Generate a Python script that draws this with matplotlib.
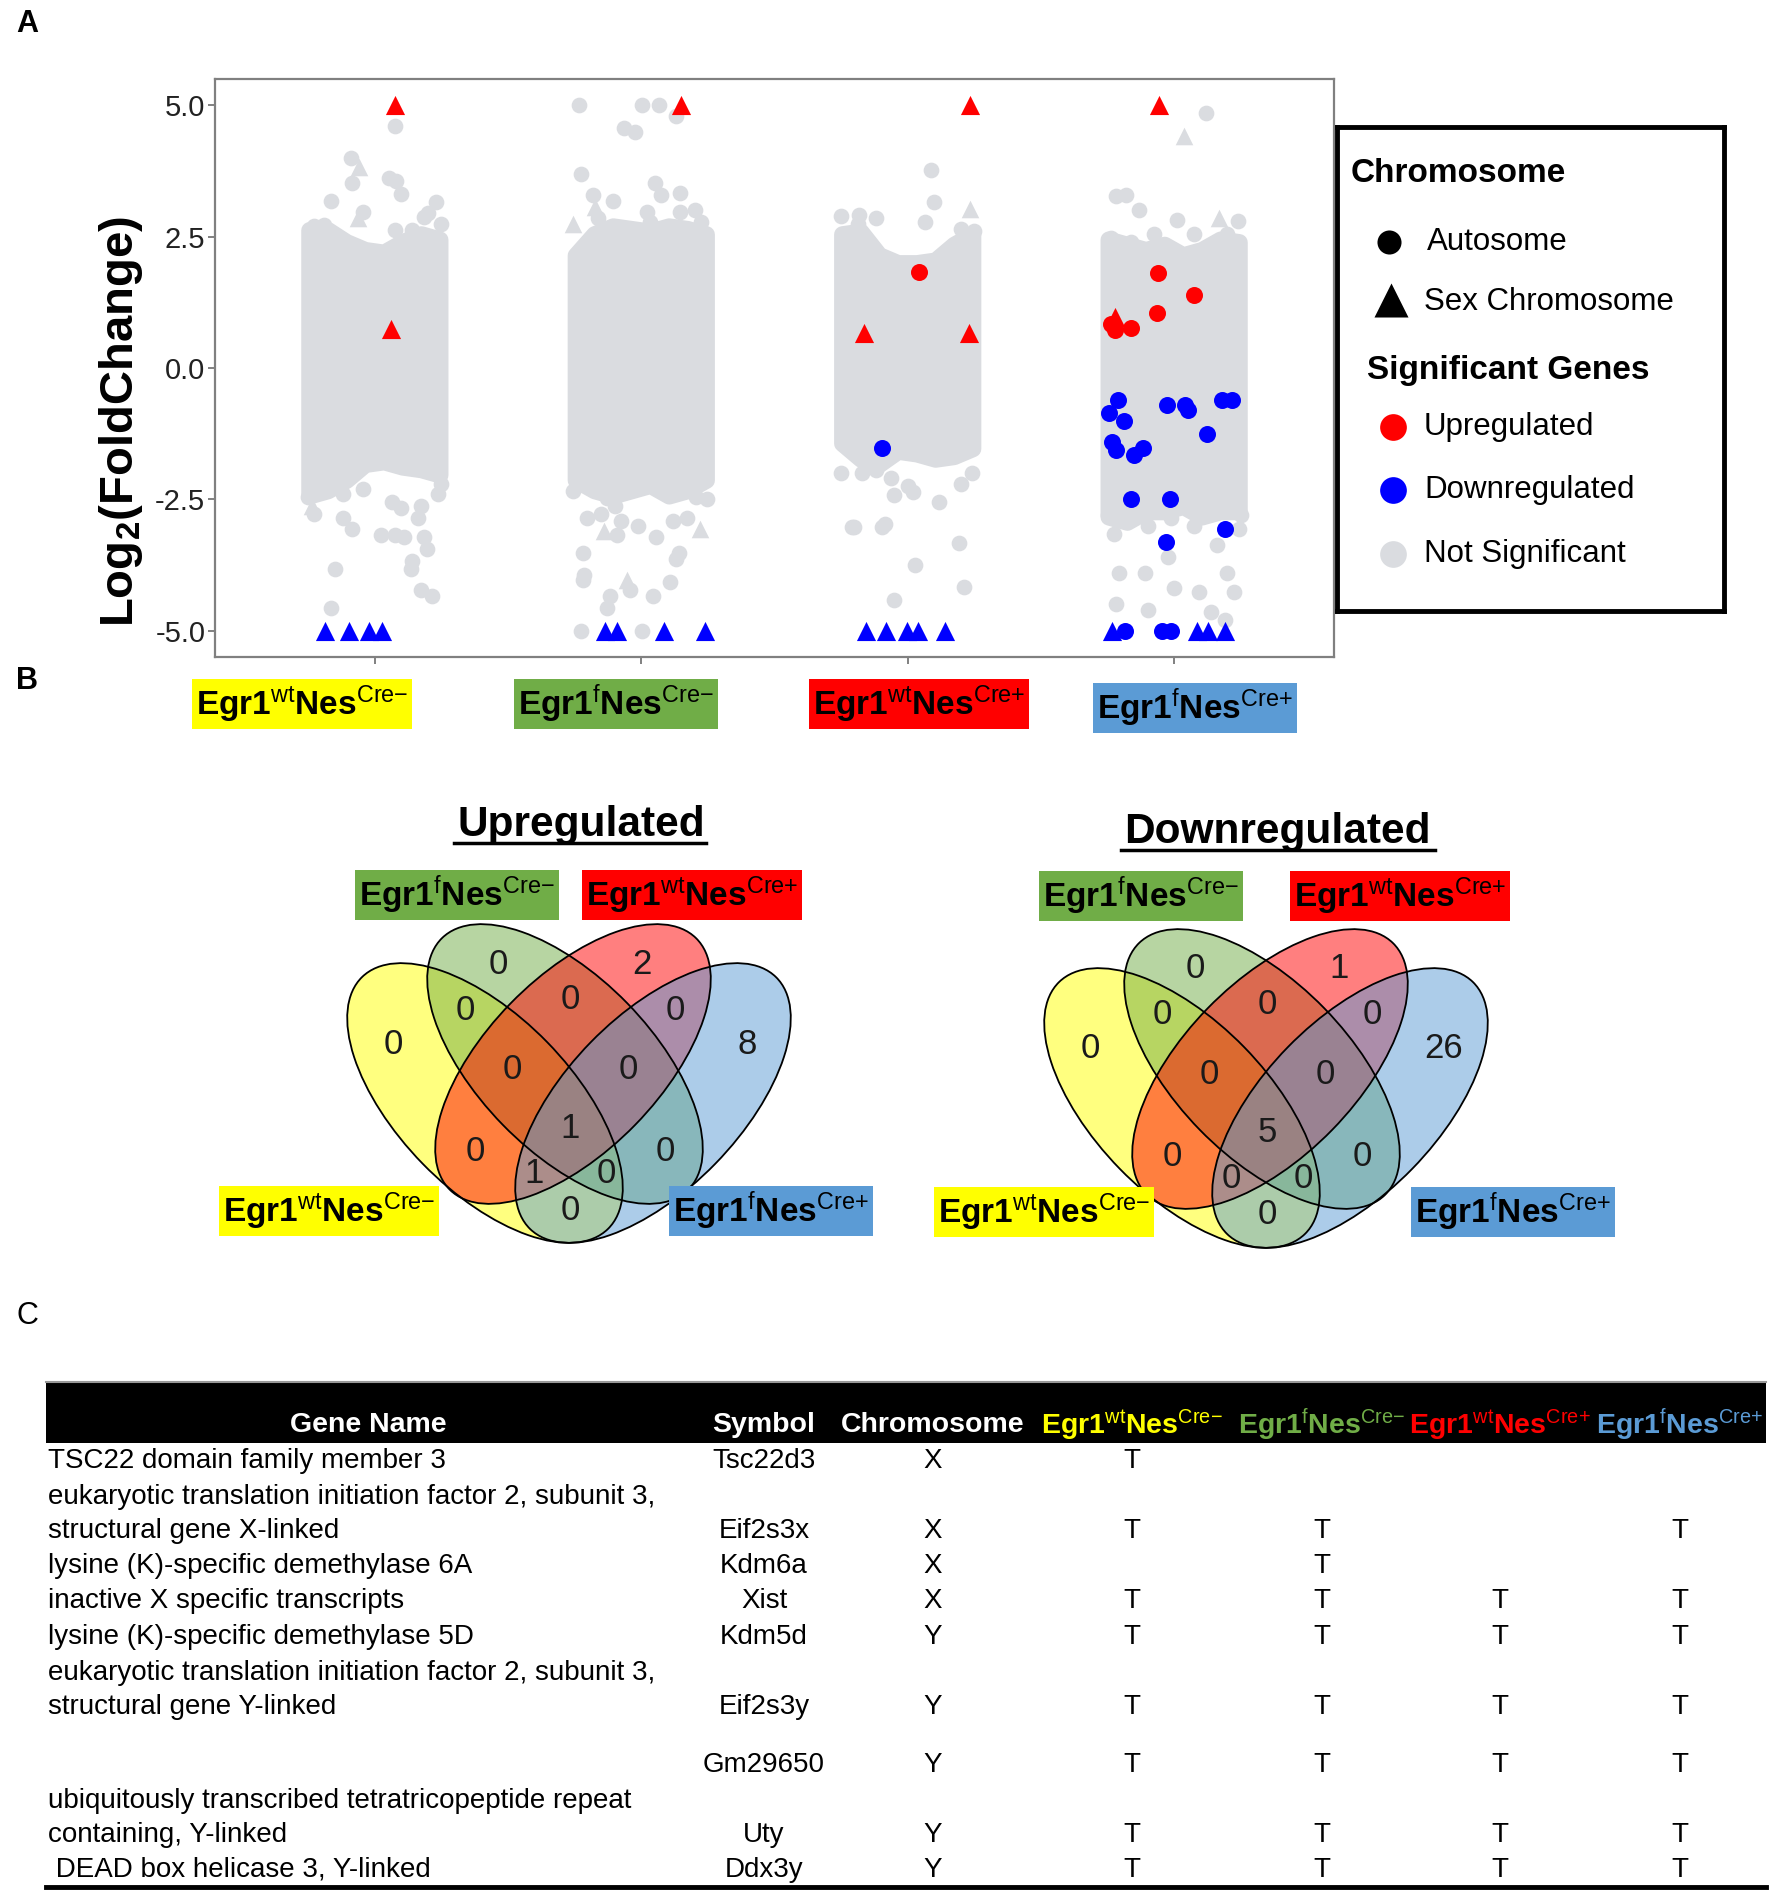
import matplotlib
matplotlib.use('Agg')
import matplotlib.pyplot as plt
from matplotlib.patches import Ellipse, Rectangle
from matplotlib.lines import Line2D

W, H = 1772, 1897

plt.rcParams['font.family'] = ['Liberation Sans', 'DejaVu Sans']
plt.rcParams['mathtext.fontset'] = 'custom'
plt.rcParams['mathtext.rm'] = 'Liberation Sans'
plt.rcParams['mathtext.bf'] = 'Liberation Sans:bold'
plt.rcParams['mathtext.it'] = 'Liberation Sans:italic'
plt.rcParams['axes.unicode_minus'] = False

# ---- genotypes
alleles = ['wt', 'f', 'wt', 'f']
cre = ['-', '-', '+', '+']
geno_colors = ['#FFFF00', '#70AD47', '#FF0000', '#5B9BD5']

# ---- panel A data (log2 fold change)
y_ticks = [5.0, 2.5, 0.0, -2.5, -5.0]
y_ticklabels = ['5.0', '2.5', '0.0', '-2.5', '-5.0']

# envelope of the dense cloud of non significant genes, read across the jitter width
cloud_dx = [-0.245, -0.175, -0.105, -0.035, 0.035, 0.105, 0.175, 0.245]
cloud_top = [[2.78, 2.78, 2.55, 2.4, 2.35, 2.55, 2.7, 2.6],
             [2.3, 2.7, 2.85, 2.8, 2.75, 2.85, 2.8, 2.7],
             [2.7, 2.75, 2.3, 2.15, 2.15, 2.2, 2.5, 2.7],
             [2.6, 2.5, 2.4, 2.5, 2.3, 2.4, 2.6, 2.55]]
cloud_bot = [[-2.6, -2.5, -2.3, -2.0, -1.95, -2.05, -2.1, -2.2],
             [-2.3, -2.5, -2.6, -2.5, -2.4, -2.6, -2.5, -2.3],
             [-1.6, -1.9, -2.0, -1.75, -1.8, -1.9, -1.85, -1.7],
             [-3.0, -3.1, -2.9, -2.9, -2.8, -3.0, -2.9, -2.9]]

# loose non significant genes: (jitter, log2FC, shape)
ns1 = [(0.075, 4.6, 'o'), (-0.09, 4.0, 'o'), (-0.06, 3.82, '^'), (-0.086, 3.52, 'o'), (0.054, 3.61, 'o'),
       (0.08, 3.56, 'o'), (0.097, 3.31, 'o'), (-0.166, 3.18, 'o'), (0.23, 3.15, 'o'), (-0.043, 2.96, 'o'),
       (-0.065, 2.85, '^'), (0.183, 2.88, 'o'), (0.14, 2.62, 'o'), (0.075, 2.62, 'o'), (-0.23, 2.7, 'o'),
       (-0.19, 2.72, 'o'), (0.25, 2.75, 'o'), (0.2, 2.95, 'o'),
       (0.247, -2.2, 'o'), (0.236, -2.4, 'o'), (-0.237, -2.62, '^'), (-0.23, -2.77, 'o'), (-0.118, -2.4, 'o'),
       (-0.118, -2.85, 'o'), (-0.086, -3.07, 'o'), (-0.043, -2.3, 'o'), (0.065, -2.55, 'o'), (0.097, -2.66, 'o'),
       (0.172, -2.62, 'o'), (0.161, -2.85, 'o'), (0.022, -3.18, 'o'), (0.075, -3.18, 'o'), (0.11, -3.22, 'o'),
       (0.183, -3.22, 'o'), (0.194, -3.45, 'o'), (0.14, -3.67, 'o'), (0.135, -3.82, 'o'), (-0.15, -3.82, 'o'),
       (0.172, -4.23, 'o'), (0.215, -4.34, 'o'), (-0.166, -4.57, 'o'), (-0.2, -2.3, 'o'), (-0.25, -2.45, 'o')]
ns2 = [(-0.232, 5.0, 'o'), (0.004, 5.0, 'o'), (0.065, 5.0, 'o'), (0.129, 4.79, 'o'), (-0.065, 4.57, 'o'),
       (-0.022, 4.49, 'o'), (-0.226, 3.69, 'o'), (0.05, 3.52, 'o'), (0.146, 3.33, 'o'), (0.075, 3.3, 'o'),
       (-0.183, 3.3, 'o'), (-0.108, 3.18, 'o'), (-0.172, 3.07, '^'), (0.02, 2.96, 'o'), (0.146, 2.96, 'o'),
       (0.032, 2.77, 'o'), (0.226, 2.77, 'o'), (-0.161, 2.85, 'o'), (-0.258, 2.75, '^'), (0.2, 3.0, 'o'),
       (-0.258, -2.35, 'o'), (-0.129, -2.47, 'o'), (-0.204, -2.85, 'o'), (-0.151, -2.77, 'o'), (-0.097, -2.62, 'o'),
       (-0.075, -2.92, 'o'), (-0.14, -3.11, '^'), (-0.09, -3.18, 'o'), (-0.011, -3.0, 'o'), (0.054, -3.22, 'o'),
       (0.118, -2.92, 'o'), (0.172, -2.85, 'o'), (0.204, -2.45, 'o'), (0.247, -2.5, 'o'), (0.22, -3.07, '^'),
       (0.14, -3.52, 'o'), (0.129, -3.63, 'o'), (-0.219, -3.52, 'o'), (-0.215, -3.93, 'o'), (-0.219, -4.04, 'o'),
       (-0.054, -4.04, '^'), (-0.043, -4.23, 'o'), (0.108, -4.08, 'o'), (0.043, -4.34, 'o'), (-0.118, -4.34, 'o'),
       (-0.129, -4.57, 'o'), (-0.226, -5.0, 'o'), (0.004, -5.0, 'o')]
ns3 = [(0.086, 3.76, 'o'), (0.097, 3.15, 'o'), (0.232, 3.03, '^'), (0.064, 2.77, 'o'), (-0.118, 2.86, 'o'),
       (-0.182, 2.92, 'o'), (0.247, 2.6, 'o'), (-0.25, 2.89, 'o'), (-0.186, 2.75, 'o'), (0.2, 2.65, 'o'),
       (-0.118, -1.95, 'o'), (-0.17, -2.0, 'o'), (-0.064, -2.1, 'o'), (0.0, -2.25, 'o'), (0.02, -2.36, 'o'),
       (0.118, -2.55, 'o'), (-0.086, -2.96, 'o'), (-0.2, -3.03, 'o'), (0.193, -3.33, 'o'), (0.026, -3.75, 'o'),
       (0.21, -4.16, 'o'), (-0.05, -4.42, 'o'), (-0.21, -3.02, 'o'), (-0.095, -3.02, 'o'), (-0.05, -2.42, 'o'),
       (0.24, -2.0, 'o'), (0.2, -2.2, 'o'), (-0.25, -2.0, 'o')]
ns4 = [(0.12, 4.85, 'o'), (0.036, 4.42, '^'), (-0.217, 3.27, 'o'), (-0.131, 3.01, 'o'), (0.17, 2.85, '^'),
       (0.009, 2.81, 'o'), (0.073, 2.55, 'o'), (0.2, 2.55, 'o'), (-0.077, 2.55, 'o'), (-0.238, 2.47, 'o'),
       (0.234, 2.32, 'o'), (-0.163, 2.4, 'o'), (-0.18, 3.3, 'o'), (0.24, 2.8, 'o'),
       (-0.227, -3.15, 'o'), (-0.1, -3.0, 'o'), (0.073, -3.0, 'o'), (0.245, -3.07, 'o'), (-0.206, -3.9, 'o'),
       (-0.11, -3.9, 'o'), (-0.002, -4.19, 'o'), (0.094, -4.27, 'o'), (0.2, -3.9, 'o'), (0.223, -4.27, 'o'),
       (-0.217, -4.49, 'o'), (-0.1, -4.6, 'o'), (0.137, -4.64, 'o'), (0.19, -4.79, 'o'), (-0.013, -2.85, 'o'),
       (0.159, -3.37, 'o'), (-0.024, -3.6, 'o'), (-0.25, -2.8, 'o'), (0.25, -2.8, 'o'), (0.1, -2.75, 'o')]
ns_points = [ns1, ns2, ns3, ns4]

# significant genes: (group, jitter, log2FC, shape)
up_genes = [(1, 0.075, 5.0, '^'), (1, 0.06, 0.75, '^'),
            (2, 0.15, 5.0, '^'),
            (3, 0.232, 5.0, '^'), (3, 0.043, 1.82, 'o'), (3, -0.164, 0.67, '^'), (3, 0.23, 0.67, '^'),
            (4, -0.056, 5.0, '^'), (4, -0.062, 1.8, 'o'), (4, 0.075, 1.39, 'o'), (4, -0.064, 1.05, 'o'),
            (4, -0.163, 0.76, 'o'), (4, -0.223, 0.73, 'o'), (4, -0.223, 0.97, '^'), (4, -0.238, 0.84, 'o')]
down_genes = [(1, -0.187, -5.0, '^'), (1, -0.097, -5.0, '^'), (1, -0.022, -5.0, '^'), (1, 0.028, -5.0, '^'),
              (2, -0.135, -5.0, '^'), (2, -0.09, -5.0, '^'), (2, 0.086, -5.0, '^'), (2, 0.241, -5.0, '^'),
              (3, -0.157, -5.0, '^'), (3, -0.082, -5.0, '^'), (3, -0.004, -5.0, '^'), (3, 0.039, -5.0, '^'),
              (3, 0.139, -5.0, '^'), (3, -0.097, -1.52, 'o'),
              (4, -0.212, -0.61, 'o'), (4, -0.245, -0.85, 'o'), (4, -0.187, -1.01, 'o'), (4, -0.028, -0.71, 'o'),
              (4, 0.041, -0.71, 'o'), (4, 0.052, -0.79, 'o'), (4, 0.18, -0.6, 'o'), (4, 0.219, -0.6, 'o'),
              (4, 0.122, -1.25, 'o'), (4, -0.234, -1.41, 'o'), (4, -0.217, -1.57, 'o'), (4, -0.152, -1.66, 'o'),
              (4, -0.116, -1.52, 'o'), (4, -0.163, -2.49, 'o'), (4, -0.017, -2.49, 'o'), (4, 0.191, -3.06, 'o'),
              (4, -0.032, -3.31, 'o'),
              (4, -0.232, -5.0, '^'), (4, -0.185, -5.0, 'o'), (4, -0.045, -5.0, 'o'), (4, -0.013, -5.0, 'o'),
              (4, 0.084, -5.0, '^'), (4, 0.127, -5.0, '^'), (4, 0.191, -5.0, '^')]

# ---- panel B: Venn region counts
# regions: Y, G, R, B, YG, GR, RB, YGR, GRB, YGRB, YR, GB, YRB, YGB, YB
up_counts = [0, 0, 2, 8, 0, 0, 0, 0, 0, 1, 0, 0, 1, 0, 0]
down_counts = [0, 0, 1, 26, 0, 0, 0, 0, 0, 5, 0, 0, 0, 0, 0]

# ---- panel C table
gene_names = [["TSC22 domain family member 3"],
              ["eukaryotic translation initiation factor 2, subunit 3,", "structural gene X-linked"],
              ["lysine (K)-specific demethylase 6A"],
              ["inactive X specific transcripts"],
              ["lysine (K)-specific demethylase 5D"],
              ["eukaryotic translation initiation factor 2, subunit 3,", "structural gene Y-linked"],
              [""],
              ["ubiquitously transcribed tetratricopeptide repeat", "containing, Y-linked"],
              [" DEAD box helicase 3, Y-linked"]]
symbols = ['Tsc22d3', 'Eif2s3x', 'Kdm6a', 'Xist', 'Kdm5d', 'Eif2s3y', 'Gm29650', 'Uty', 'Ddx3y']
chromosomes = ['X', 'X', 'X', 'X', 'Y', 'Y', 'Y', 'Y', 'Y']
found = [[1, 0, 0, 0], [1, 1, 0, 1], [0, 1, 0, 0], [1, 1, 1, 1], [1, 1, 1, 1],
         [1, 1, 1, 1], [1, 1, 1, 1], [1, 1, 1, 1], [1, 1, 1, 1]]

GRAY = '#DADCE0'


def fx(x):
    return x / W


def fy(y):
    return 1 - y / H


def geno(i):
    return r'$\mathbf{Egr1}^{\mathrm{%s}}\mathbf{Nes}^{\mathrm{Cre{%s}}}$' % (alleles[i], cre[i])


fig = plt.figure(figsize=(W / 100, H / 100), dpi=100)

# ================= Panel A =================
ax = fig.add_axes([fx(215), fy(657), (1334 - 215) / W, (657 - 79) / H])
ax.set_xlim(0.4, 4.6)
ax.set_ylim(-5.5, 5.5)

edge_y = 0.16  # half the cloud outline width, in data units
for g in range(4):
    xg = g + 1
    xs = [xg + d for d in cloud_dx] + [xg + d for d in cloud_dx[::-1]]
    ys = [t - edge_y for t in cloud_top[g]] + [b + edge_y for b in cloud_bot[g][::-1]]
    ax.fill(xs, ys, fc=GRAY, ec=GRAY, lw=12, joinstyle='round', zorder=1)
    for m, s in (('o', 128), ('^', 160)):
        pts = [p for p in ns_points[g] if p[2] == m]
        ax.scatter([xg + p[0] for p in pts], [p[1] for p in pts], s=s, marker=m,
                   color=GRAY, lw=0, zorder=2)

for genes, col in ((up_genes, '#FF0000'), (down_genes, '#0000FF')):
    for m, s in (('o', 150), ('^', 190)):
        pts = [p for p in genes if p[3] == m]
        ax.scatter([p[0] + p[1] for p in pts], [p[2] for p in pts], s=s, marker=m,
                   color=col, lw=0, zorder=3)

for sp in ax.spines.values():
    sp.set_color('#808080')
    sp.set_linewidth(1.6)
ax.set_xticks([1, 2, 3, 4])
ax.set_xticklabels([])
ax.set_yticks(y_ticks)
ax.set_yticklabels(y_ticklabels, fontsize=21, color='#222222')
ax.tick_params(axis='both', color='#808080', length=5, width=1.4, pad=2)

fig.text(fx(121), fy(422), r'$\mathbf{Log_2(FoldChange)}$', rotation=90,
         ha='center', va='center', fontsize=34)

# group labels under the axis
a_label_xy = [(302, 704), (616, 704), (919, 704), (1195, 708)]
for i, (x, y) in enumerate(a_label_xy):
    fig.text(fx(x), fy(y), geno(i), ha='center', va='center', fontsize=24,
             bbox=dict(boxstyle='square,pad=0.12', fc=geno_colors[i], ec='none'))

# legend
lg = fig.add_axes([fx(1337), fy(611), (1724 - 1337) / W, (611 - 127) / H])
lg.set_xlim(0, 387)
lg.set_ylim(484, 0)
lg.set_xticks([])
lg.set_yticks([])
for sp in lg.spines.values():
    sp.set_linewidth(3.5)
    sp.set_color('black')
lg.text(14, 46, 'Chromosome', fontsize=24, fontweight='bold', va='center')
lg.scatter([52], [115], s=300, marker='o', color='black', lw=0)
lg.text(90, 115, 'Autosome', fontsize=22.5, va='center')
lg.scatter([54], [173], s=600, marker='^', color='black', lw=0)
lg.text(87, 175, 'Sex Chromosome', fontsize=22.5, va='center')
lg.text(30, 244, 'Significant Genes', fontsize=24, fontweight='bold', va='center')
for yy, col, lab in ((300, '#FF0000', 'Upregulated'), (363, '#0000FF', 'Downregulated'),
                     (427, GRAY, 'Not Significant')):
    lg.scatter([56], [yy], s=370, marker='o', color=col, lw=0)
    lg.text(87, yy, lab, fontsize=22.5, va='center')

# ================= Panel B =================
# ellipse layout in pixels inside a 514 x 475 frame (y downwards)
ell_centers = [(172, 250), (252, 211), (260, 211), (340, 250)]
ell_angles = [45.7, 45.7, -45.7, -45.7]
ell_w, ell_h = 352, 174
region_xy = [(80, 191), (185, 111), (329, 111), (434, 191),
             (152, 157), (257, 146), (362, 157), (199, 216), (315, 216),
             (257, 275), (162, 298), (352, 298), (221, 320), (293, 320),
             (257, 357)]


def venn(x0, y0, counts):
    vx = fig.add_axes([fx(x0), fy(y0 + 475), 514 / W, 475 / H])
    vx.set_xlim(0, 514)
    vx.set_ylim(475, 0)
    vx.axis('off')
    for c, ang, col in zip(ell_centers, ell_angles, geno_colors):
        vx.add_patch(Ellipse(c, ell_w, ell_h, angle=ang, fc=col, alpha=0.5, ec='none'))
    for c, ang in zip(ell_centers, ell_angles):
        vx.add_patch(Ellipse(c, ell_w, ell_h, angle=ang, fc='none', ec='black', lw=1.3))
    for (x, y), n in zip(region_xy, counts):
        vx.text(x, y, str(n), ha='center', va='center', fontsize=25, color='#1a1a1a')


venn(313, 853, up_counts)
venn(1010, 858, down_counts)

for title, (x, y), (ux0, ux1, uy) in (('Upregulated', (581, 825), (454, 706, 843)),
                                      ('Downregulated', (1277, 832), (1121, 1435, 850))):
    fig.text(fx(x), fy(y), title, ha='center', va='center', fontsize=30.5, fontweight='bold')
    fig.add_artist(Line2D([fx(ux0), fx(ux1)], [fy(uy), fy(uy)], color='black', lw=2.5))

venn_label_xy = [[(329, 1211), (457, 895), (692, 895), (771, 1211)],
                 [(1044, 1212), (1141, 896), (1400, 896), (1513, 1212)]]
for lab_xy in venn_label_xy:
    for i, (x, y) in enumerate(lab_xy):
        fig.text(fx(x), fy(y), geno(i), ha='center', va='center', fontsize=24,
                 bbox=dict(boxstyle='square,pad=0.12', fc=geno_colors[i], ec='none'))

# ================= Panel C =================
fig.add_artist(Rectangle((fx(46), fy(1443)), (1766 - 46) / W, 60 / H, transform=fig.transFigure,
                         fc='black', ec='none'))
fig.add_artist(Line2D([fx(46), fx(1766)], [fy(1382), fy(1382)], color='#999999', lw=1.5))
fig.add_artist(Line2D([fx(46), fx(1766)], [fy(1887), fy(1887)], color='black', lw=3.5))

head_y = 1425
fig.text(fx(368), fy(head_y), 'Gene Name', ha='center', va='center', fontsize=20.5,
         fontweight='bold', color='white')
fig.text(fx(764), fy(head_y), 'Symbol', ha='center', va='center', fontsize=20.5,
         fontweight='bold', color='white')
fig.text(fx(933), fy(head_y), 'Chromosome', ha='center', va='center', fontsize=20.5,
         fontweight='bold', color='white')
col_x = [1132, 1322, 1500, 1680]
for i, x in enumerate(col_x):
    fig.text(fx(x), fy(head_y), geno(i), ha='center', va='center', fontsize=20.5,
             color=geno_colors[i])

row_y = [1461, 1531, 1566, 1601, 1637, 1707, 1765, 1835, 1870]
line_gap = 34.5
for r in range(len(symbols)):
    y = row_y[r]
    lines = gene_names[r]
    for k, txt in enumerate(lines):
        fig.text(fx(48), fy(y - line_gap * (len(lines) - 1 - k)), txt, ha='left', va='center',
                 fontsize=20)
    fig.text(fx(764), fy(y), symbols[r], ha='center', va='center', fontsize=20)
    fig.text(fx(933), fy(y), chromosomes[r], ha='center', va='center', fontsize=20)
    for c in range(4):
        if found[r][c]:
            fig.text(fx(col_x[c]), fy(y), 'T', ha='center', va='center', fontsize=20)

# panel letters
fig.text(fx(27), fy(24), 'A', ha='center', va='center', fontsize=22, fontweight='bold')
fig.text(fx(27), fy(681), 'B', ha='center', va='center', fontsize=22, fontweight='bold')
fig.text(fx(27), fy(1316), 'C', ha='center', va='center', fontsize=22)

fig.savefig('out.png', dpi=100)
